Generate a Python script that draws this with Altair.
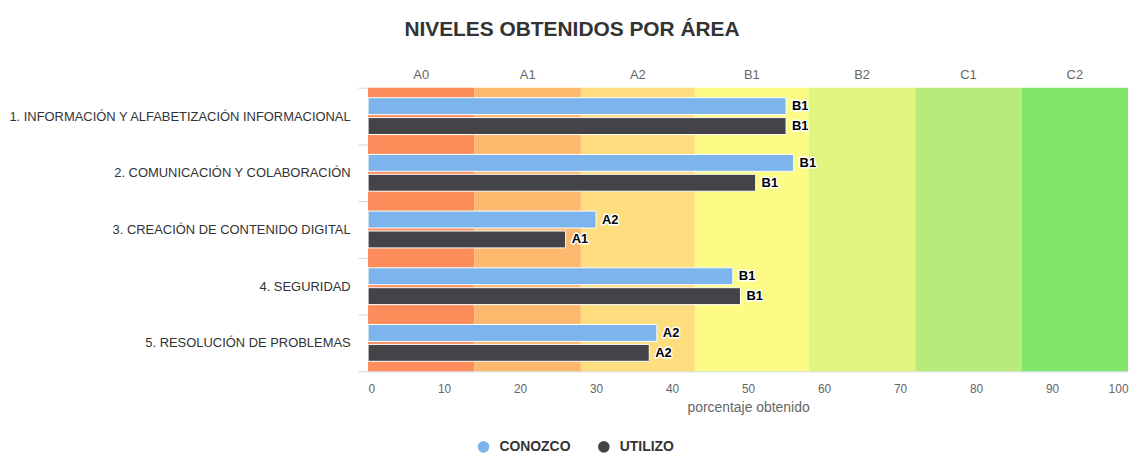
import altair as alt
import pandas as pd

categories = [
    "1. INFORMACIÓN Y ALFABETIZACIÓN INFORMACIONAL",
    "2. COMUNICACIÓN Y COLABORACIÓN",
    "3. CREACIÓN DE CONTENIDO DIGITAL",
    "4. SEGURIDAD",
    "5. RESOLUCIÓN DE PROBLEMAS",
]
series = ["CONOZCO", "UTILIZO"]
conozco = [55, 56, 30, 48, 38]
utilizo = [55, 51, 26, 49, 37]
conozco_lvl = ["B1", "B1", "A2", "B1", "A2"]
utilizo_lvl = ["B1", "B1", "A1", "B1", "A2"]

levels = ["A0", "A1", "A2", "B1", "B2", "C1", "C2"]
level_start = [0, 14, 28, 43, 58, 72, 86]
level_end = [14, 28, 43, 58, 72, 86, 100]
level_colors = ["#fe8d5c", "#fdb86d", "#fedd7e", "#fcfb85", "#e0f57e", "#b7ec7a", "#81e46b"]
series_colors = ["#7cb5ec", "#434348"]
tick_values = [0, 10, 20, 30, 40, 50, 60, 70, 80, 90, 100]

bars = pd.DataFrame({
    "category": categories * 2,
    "series": [series[0]] * 5 + [series[1]] * 5,
    "value": conozco + utilizo,
    "level": conozco_lvl + utilizo_lvl,
})
bands = pd.DataFrame({"level": levels, "start": level_start, "end": level_end})
bands["mid"] = (bands["start"] + bands["end"]) / 2

XT = "porcentaje obtenido"
xscale = alt.Scale(domain=[0, 100], nice=False, zero=True)
xaxis = alt.Axis(values=tick_values, labelFlush=True)


def xenc(field):
    return alt.X(field, scale=xscale, title=XT, axis=xaxis)


yenc = alt.Y("category:N", sort=categories, title=None,
             scale=alt.Scale(paddingInner=0, paddingOuter=0))
yoff = alt.YOffset("series:N", sort=series,
                   scale=alt.Scale(paddingInner=0.15, paddingOuter=0.5))

band_layer = alt.Chart(bands).mark_rect().encode(
    x=xenc("start:Q"),
    x2="end:Q",
    color=alt.Color("level:N", scale=alt.Scale(domain=levels, range=level_colors), legend=None),
)

top_labels = alt.Chart(bands).mark_text(fontSize=13, color="#666666", baseline="middle").encode(
    x=xenc("mid:Q"),
    y=alt.value(-13),
    text="level:N",
)

bar_layer = alt.Chart(bars).mark_bar(stroke="white", strokeWidth=1).encode(
    x=xenc("value:Q"),
    y=yenc,
    yOffset=yoff,
    color=alt.Color("series:N", scale=alt.Scale(domain=series, range=series_colors),
                    legend=alt.Legend(title=None, orient="none", legendX=109, legendY=354,
                                      direction="horizontal", symbolType="circle",
                                      symbolSize=135, symbolStrokeWidth=0, symbolOpacity=1,
                                      labelFontSize=14, labelFontWeight="bold",
                                      labelColor="#333333", columnPadding=26, labelOffset=9)),
)

halo = alt.Chart(bars).mark_text(align="left", dx=6, baseline="middle", fontSize=13,
                                 fontWeight="bold", stroke="white", strokeWidth=3,
                                 strokeJoin="round", color="white").encode(
    x=xenc("value:Q"), y=yenc, yOffset=yoff, text="level:N")

labels = alt.Chart(bars).mark_text(align="left", dx=6, baseline="middle", fontSize=13,
                                   fontWeight="bold", color="#000000").encode(
    x=xenc("value:Q"), y=yenc, yOffset=yoff, text="level:N")

chart = alt.layer(band_layer, top_labels, bar_layer, halo, labels).resolve_scale(
    color="independent"
).properties(
    width=764,
    height=285,
    padding={"left": 362, "top": 79, "right": 6, "bottom": 83},
    autosize=alt.AutoSizeParams(type="none"),
    title=alt.Title("NIVELES OBTENIDOS POR ÁREA", fontSize=21, fontWeight="bold",
                    color="#333333", dx=-177, offset=29),
).configure(
    font="Liberation Sans",
).configure_view(
    stroke=None,
).configure_axisX(
    labelColor="#666666", labelFontSize=12, ticks=False,
    domainColor="#ccd6eb", grid=False, titleColor="#666666", titleFontSize=14,
    titleFontWeight="normal", labelPadding=12, titlePadding=6,
).configure_axisY(
    labelColor="#333333", labelFontSize=13, tickColor="#ccd6eb", tickSize=10,
    tickBand="extent", domainColor="#ccd6eb", labelPadding=8, labelLimit=400, grid=False,
)

chart.save("out.html", embed_options={"renderer": "svg", "actions": False})
